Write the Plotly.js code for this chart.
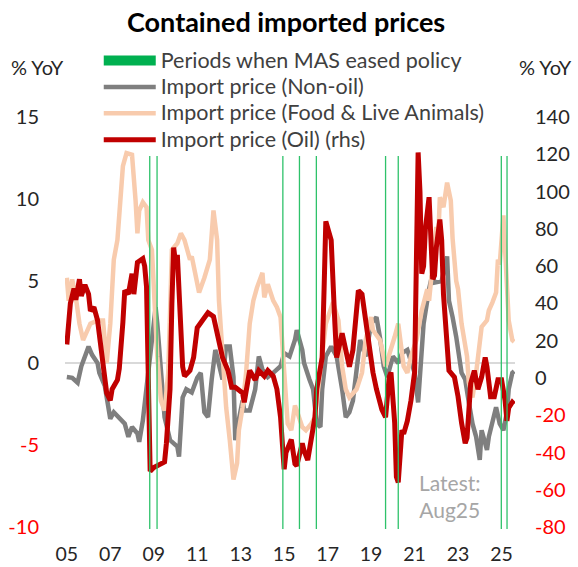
<!DOCTYPE html>
<html><head><meta charset="utf-8">
<script src="https://cdn.plot.ly/plotly-3.0.1.min.js"></script>
<style>html,body{margin:0;padding:0;background:#fff}#chart{width:578px;height:567px}</style>
</head><body><div id="chart"></div>
<script>
const FONT = 'Lato, "Open Sans", sans-serif';
const RED = '#C00000', GRAY = '#7F7F7F', FOOD = '#F8CBAD', GREEN = '#00B050';

// Import price (Oil), % YoY, right axis
const oilDates = [
 '2005-01','2005-03','2005-05','2005-06','2005-08','2005-09','2005-11',
 '2006-01','2006-02','2006-04','2006-06','2006-07','2006-09','2006-11',
 '2007-01','2007-02','2007-05','2007-06','2007-08','2007-09','2007-11','2007-12',
 '2008-01','2008-02','2008-04','2008-07','2008-08','2008-09','2008-10','2008-11',
 '2009-01','2009-03','2009-05','2009-07','2009-08','2009-10','2009-11','2009-12',
 '2010-01','2010-02','2010-03','2010-04','2010-05','2010-06','2010-09','2010-11',
 '2011-01','2011-04','2011-07','2011-10','2011-12',
 '2012-01','2012-03','2012-06','2012-08','2012-10','2012-11',
 '2013-02','2013-03','2013-04','2013-06','2013-09','2013-11',
 '2014-02','2014-04','2014-07','2014-09','2014-11','2014-12',
 '2015-01','2015-02','2015-05','2015-07','2015-08','2015-11','2015-12',
 '2016-02','2016-04','2016-06','2016-07','2016-10','2016-11','2016-12',
 '2017-03','2017-04','2017-05','2017-06','2017-08','2017-09','2017-11',
 '2018-01','2018-03','2018-05','2018-06','2018-08','2018-09','2018-12',
 '2019-02','2019-04','2019-07','2019-09','2019-11','2019-12',
 '2020-02','2020-03','2020-04','2020-06','2020-07','2020-09','2020-11',
 '2021-01','2021-02','2021-03','2021-04','2021-05','2021-06','2021-07','2021-09','2021-10','2021-11','2021-12',
 '2022-01','2022-03','2022-04','2022-05','2022-07','2022-08','2022-11',
 '2023-01','2023-03','2023-05','2023-06','2023-08','2023-10','2023-12',
 '2024-02','2024-04','2024-05','2024-07','2024-09','2024-11',
 '2025-01','2025-03','2025-04','2025-05','2025-07','2025-08'];
const oilValues = [
 18,40,48,42,53,44,50,
 45,36,38,31,24,6,-8,
 -12,-6,-1,5,30,47,45,52,
 56,45,62,64,60,49,10,-50,
 -48,-47,-46,-45,-35,-6,40,70,
 62,66,47,25,6,1,4,11,
 27,31,35,33,24,
 17,11,4,-5,-5,-6,
 -8,-13,-6,4,-1,4,
 1,4,1,-6,-21,-33,
 -49,-40,-33,-46,-47,-35,-39,
 -44,-32,-21,-6,11,47,84,
 74,42,30,11,22,24,15,
 6,15,38,47,45,38,15,
 3,-6,-17,-21,0.5,3,
 -24,-53,-56,-28,-30,-23,-12,
 3,60,121,100,56,60,80,97,70,53,55,
 70,85,74,45,10,4,0.5,
 -10,-24,-35,-32,-3,4,-6,
 0.5,11,6,-10,-10,-1,
 -1,-12,-23,-16,-13,-14];

// Import price (Non-oil), % YoY, left axis
const nonOilDates = [
 '2005-01','2005-04','2005-07','2005-09',
 '2006-01','2006-03','2006-06','2006-07','2006-10','2006-12',
 '2007-01','2007-03','2007-06','2007-09','2007-11',
 '2008-01','2008-04','2008-05','2008-07','2008-09','2008-12',
 '2009-02','2009-03','2009-05','2009-07','2009-10',
 '2010-02','2010-03','2010-05','2010-07','2010-10',
 '2011-01','2011-03','2011-05','2011-07','2011-09','2011-11','2011-12',
 '2012-03','2012-05','2012-07','2012-09','2012-10','2012-11',
 '2013-02','2013-03','2013-06','2013-09','2013-11',
 '2014-01','2014-04','2014-07','2014-11',
 '2015-01','2015-04','2015-07','2015-08','2015-11','2015-12',
 '2016-03','2016-05','2016-07','2016-09','2016-10','2016-12',
 '2017-03','2017-06','2017-09','2017-11',
 '2018-01','2018-03','2018-07','2018-10',
 '2019-01','2019-04','2019-06','2019-08','2019-10',
 '2020-01','2020-04','2020-06','2020-09','2020-10',
 '2021-01','2021-03','2021-05','2021-06','2021-09','2021-11','2021-12',
 '2022-04','2022-07','2022-08','2022-10','2022-12',
 '2023-03','2023-05','2023-07','2023-09','2023-11',
 '2024-01','2024-02','2024-05','2024-06','2024-08','2024-10','2024-12',
 '2025-02','2025-04','2025-05','2025-07','2025-08'];
const nonOilValues = [
 -0.85,-0.9,-1.2,-0.2,
 1.0,0.5,0,-0.6,-1.4,-2.7,
 -3.4,-3.0,-3.4,-3.7,-4.5,
 -3.9,-4.3,-4.8,-3.5,-1.6,1.7,
 3.4,2.4,-0.6,-3.3,-4.7,
 -5.1,-5.7,-2.1,-1.6,-1.8,
 -0.9,-0.6,-3.0,-3.3,-1.0,0.8,0.4,
 -1.0,1.0,1.0,-0.85,-4.7,-4.0,
 -2.3,-2.9,-2.9,-1.6,0.4,
 -0.4,-0.85,-0.6,-0.2,
 0.6,0.4,1.4,2.0,0.8,0,
 -1.0,-1.6,-3.7,-3.9,-1.6,0.4,
 1.0,0.4,-1.6,-3.3,
 -3.0,-2.3,1.4,0.4,
 2.4,2.8,1.5,-0.2,-0.85,
 0.4,0,0.6,0.8,0.4,
 -0.6,-2.4,0.4,2.4,4.5,5.5,4.9,
 5.0,6.5,3.8,2.8,1.6,
 -0.6,-1.0,-2.4,-3.7,-4.5,
 -5.9,-4.1,-5.3,-4.5,-3.7,-2.7,-3.7,
 -4.1,-3.0,-1.6,-0.6,-0.5];

// Import price (Food & Live Animals), % YoY, left axis
const foodDates = [
 '2005-01','2005-02','2005-04','2005-06','2005-08','2005-10',
 '2006-02','2006-06','2006-09','2006-11',
 '2007-01','2007-02','2007-03','2007-05','2007-08','2007-10',
 '2008-01','2008-03','2008-04','2008-05','2008-07','2008-09','2008-10','2008-12',
 '2009-01','2009-02','2009-03','2009-05','2009-07','2009-09','2009-10','2009-11',
 '2010-02','2010-04','2010-06','2010-09','2010-10',
 '2011-01','2011-02','2011-05','2011-08','2011-10','2011-12',
 '2012-01','2012-03','2012-05','2012-07','2012-09','2012-11','2012-12',
 '2013-02','2013-04','2013-06','2013-08','2013-10',
 '2014-01','2014-02','2014-04','2014-07','2014-09','2014-11','2014-12',
 '2015-01','2015-03','2015-05','2015-07','2015-08','2015-11',
 '2016-01','2016-04','2016-06','2016-07','2016-10','2016-12',
 '2017-04','2017-07','2017-09','2017-11',
 '2018-01','2018-05','2018-08','2018-10',
 '2019-01','2019-02','2019-06','2019-09',
 '2020-02','2020-04','2020-07','2020-09','2020-11',
 '2021-02','2021-05','2021-08','2021-09','2021-11',
 '2022-01','2022-02','2022-03','2022-05','2022-07','2022-09','2022-10','2022-12',
 '2023-01','2023-03','2023-06','2023-07','2023-09','2023-11',
 '2024-01','2024-02','2024-05','2024-06','2024-08','2024-10','2024-11','2024-12',
 '2025-02','2025-03','2025-04','2025-05','2025-07','2025-08'];
const foodValues = [
 5.2,3.8,5.1,4.0,2.4,1.4,
 2.4,2.6,2.6,0.0,
 2.4,4.5,6.3,7.5,12,12.8,
 12.7,9.9,7.9,9.3,9.8,9.5,7.5,6.9,
 4.0,2.4,0.4,-2.3,-2.9,-0.6,3.0,6.9,
 7.3,7.9,7.5,6.3,6.5,
 4.6,4.3,5.2,6.3,9.3,7.5,
 3.8,0.4,-2.7,-4.7,-7.1,-6.1,-4.1,
 -2.7,-0.6,2.4,3.8,4.6,
 5.5,4.0,4.8,3.8,3.4,2.8,1.4,
 -0.6,-3.7,-4.1,-2.6,-2.9,-3.9,
 -4.1,-3.7,-3.3,-2.3,0.4,2.4,
 3.7,2.6,-0.2,-1.6,
 -2.1,-1.6,-0.6,1.4,
 2.8,2.0,1.4,-0.2,
 1.6,2.4,-0.2,-0.6,0.4,
 1.4,3.2,4.5,3.8,6.0,
 8.3,7.5,10.1,9.5,11.0,9.9,7.6,5.0,
 4.5,2.4,0.4,-1.2,-2.1,-0.6,
 1.4,2.2,2.6,3.2,3.7,4.3,6.3,6.0,
 9.0,7.0,3.8,2.6,1.4,1.3];

// MAS easing decisions (vertical markers)
const easingDates = ['2008-10-25','2009-02-25','2014-12-10','2015-09-15','2016-06-25',
                     '2019-09-01','2020-04-01','2024-12-28','2025-04-03'];

const seriesNames = ['Periods when MAS eased policy', 'Import price (Non-oil)',
                     'Import price (Food &amp; Live Animals)', 'Import price (Oil) (rhs)'];
const leftTicks = [-10,-5,0,5,10,15];
const rightTicks = [-80,-60,-40,-20,0,20,40,60,80,100,120,140];
const tickLabel = v => v < 0 ? '<span style="color:#FF0000">' + v + '</span>' : String(v);
const legName = s => '<span style="font-size:21.5px">' + s + '</span>';

const easeX = [], easeY = [];
easingDates.forEach(d => { easeX.push(d, d, null); easeY.push(0, 1, null); });

const data = [
  {x:[null], y:[null], type:'scatter', mode:'lines', name:legName(seriesNames[0]),
   line:{color:GREEN, width:12}, yaxis:'y3', hoverinfo:'skip'},
  {x:nonOilDates, y:nonOilValues, type:'scatter', mode:'lines', name:legName(seriesNames[1]),
   line:{color:GRAY, width:4.5}},
  {x:foodDates, y:foodValues, type:'scatter', mode:'lines', name:legName(seriesNames[2]),
   line:{color:FOOD, width:4.5}},
  {x:oilDates, y:oilValues, type:'scatter', mode:'lines', name:legName(seriesNames[3]),
   line:{color:RED, width:5}, yaxis:'y2'},
  {x:easeX, y:easeY, type:'scatter', mode:'lines', showlegend:false,
   line:{color:'#2EC26A', width:1.3}, yaxis:'y3', hoverinfo:'skip'}
];

const layout = {
  width:578, height:567,
  margin:{l:65, r:63, t:112, b:38, autoexpand:false},
  paper_bgcolor:'#fff', plot_bgcolor:'rgba(0,0,0,0)',
  font:{family:FONT, size:20, color:'#262626'},
  title:{text:'<b>Contained imported prices</b>', font:{family:FONT, size:27, color:'#000'},
         x:0.495, xref:'container', xanchor:'center', y:0.961, yref:'container', yanchor:'middle'},
  showlegend:true,
  legend:{x:0.075, y:1.167, xanchor:'left', yanchor:'top', bgcolor:'rgba(0,0,0,0)',
          font:{family:FONT, size:18, color:'#404040'}, itemwidth:52, traceorder:'normal'},
  xaxis:{type:'date', range:['2004-12-01','2025-08-15'], tick0:'2005-01-01', dtick:'M24',
         tickformat:'%y', showgrid:false, zeroline:false, showline:false, ticks:'',
         ticklabelstandoff:11, tickfont:{family:FONT, size:19.5, color:'#262626'}},
  yaxis:{range:[-10.12, 15.305], tickvals:leftTicks, ticktext:leftTicks.map(tickLabel),
         showgrid:false, zeroline:true, zerolinecolor:'#D9D9D9', zerolinewidth:2,
         showline:false, ticks:'', ticklabelstandoff:25, tickfont:{family:FONT, size:20, color:'#262626'}},
  yaxis2:{overlaying:'y', side:'right', range:[-81.0, 142.7], tickvals:rightTicks,
          ticktext:rightTicks.map(tickLabel), showgrid:false, zeroline:false, showline:false,
          ticks:'', ticklabelstandoff:19, tickfont:{family:FONT, size:20, color:'#262626'}},
  yaxis3:{overlaying:'y', range:[0, 1.118], visible:false, showgrid:false, zeroline:false},
  annotations:[
    {text:'% YoY', xref:'paper', yref:'paper', x:-0.062, y:1.108, showarrow:false,
     xanchor:'center', yanchor:'middle', font:{family:FONT, size:20, color:'#262626'}},
    {text:'% YoY', xref:'paper', yref:'paper', x:1.067, y:1.108, showarrow:false,
     xanchor:'center', yanchor:'middle', font:{family:FONT, size:20, color:'#262626'}},
    {text:'Latest:<br>Aug25', xref:'paper', yref:'paper', x:0.856, y:0.078, showarrow:false,
     xanchor:'center', yanchor:'middle', align:'center', font:{family:FONT, size:21, color:'#A6A6A6'}}
  ]
};

Plotly.newPlot('chart', data, layout, {staticPlot:true, displayModeBar:false});
</script></body></html>
